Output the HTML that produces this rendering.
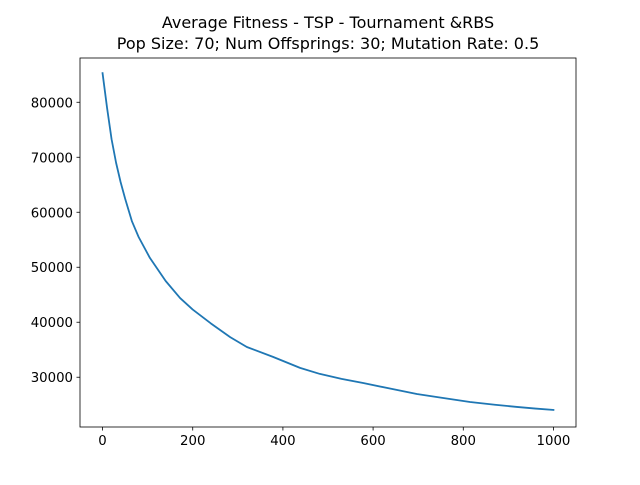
<!DOCTYPE html>
<html><head><meta charset="utf-8"><style>
body{margin:0;background:#fff}
svg text{font-family:"DejaVu Sans","Liberation Sans",sans-serif;fill:#000}
</style></head><body>
<svg id="chart" width="640" height="480" viewBox="0 0 640 480" xmlns="http://www.w3.org/2000/svg">
<rect width="640" height="480" fill="#fff"/>
<text x="328" y="28" font-size="16" text-anchor="middle">Average Fitness - TSP - Tournament &amp;RBS</text>
<text x="328" y="49" font-size="16" text-anchor="middle">Pop Size: 70; Num Offsprings: 30; Mutation Rate: 0.5</text>
<g id="plot"></g>
</svg>
<script>
const gens = [0,10,20,30,40,50,65,80,105,140,172,200,240,283,320,378,438,482,530,578,640,697,750,815,870,919,960,1000];
const fitness = [85300,79000,73300,69000,65500,62500,58400,55500,51700,47500,44400,42300,39800,37300,35500,33700,31700,30600,29700,28950,27900,26950,26300,25500,25000,24600,24300,24050];
const xTicks = [0,200,400,600,800,1000];
const yTicks = [30000,40000,50000,60000,70000,80000];
const L=80,R=576,T=58,B=427;
const xMin=-50,xMax=1050,yMin=20950,yMax=88050;
const sx=v=>L+(v-xMin)/(xMax-xMin)*(R-L);
const sy=v=>B-(v-yMin)/(yMax-yMin)*(B-T);
const NS="http://www.w3.org/2000/svg";
const g=document.getElementById('plot');
function mk(tag,attrs){const e=document.createElementNS(NS,tag);for(const k in attrs)e.setAttribute(k,attrs[k]);g.appendChild(e);return e;}
const pts=gens.map((x,i)=>sx(x).toFixed(2)+','+sy(fitness[i]).toFixed(2)).join(' ');
const line=mk('polyline',{points:pts,fill:'none',stroke:'#1f77b4','stroke-width':1.8,'stroke-linejoin':'round','stroke-linecap':'square'});


const frame=mk('rect',{x:L,y:T,width:R-L,height:B-T,fill:'none',stroke:'#000','stroke-width':0.8});


xTicks.forEach(v=>{
  const x=sx(v);
  const t=mk('line',{x1:x,x2:x,y1:B,y2:B+3.5,stroke:'#000','stroke-width':0.8});
  
  
  const l=mk('text',{x:x,y:B+18,'font-size':13.3,'text-anchor':'middle'});
  l.textContent=v;
  
  
});
yTicks.forEach(v=>{
  const y=sy(v);
  const t=mk('line',{x1:L-3.5,x2:L,y1:y,y2:y,stroke:'#000','stroke-width':0.8});
  
  
  const l=mk('text',{x:L-7,y:y+5,'font-size':13.3,'text-anchor':'end'});
  l.textContent=v;
  
  
});
</script>
</body></html>
